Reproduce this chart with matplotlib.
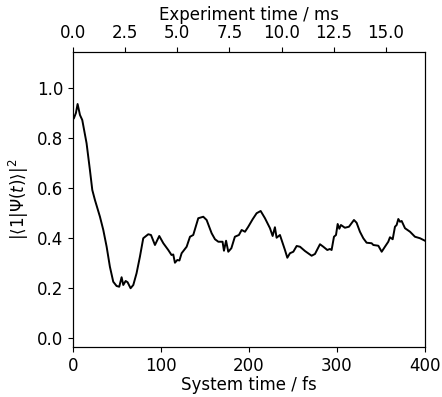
import numpy as np
import matplotlib
matplotlib.use("Agg")
import matplotlib.pyplot as plt

# system time (fs) and population
t_fs = [0, 1.1, 3.4, 5.3, 8, 10.6, 15.5, 19.3, 22, 25, 30.7, 34.5, 38.3, 42, 45.8,
        49.6, 52.6, 55.3, 57.2, 59.9, 62.1, 65.5, 68.6, 72.3, 76.1, 79.9, 85.6,
        88.7, 93.2, 98.1, 102.7, 108.3, 112, 114, 115.9, 118.6, 121, 123.5,
        129.2, 133, 136.7, 142.4, 148.1, 151.9, 157.6, 161.4, 165.2, 170, 171.6,
        174, 176.5, 180, 184, 188.6, 191.7, 195.5, 199.2, 204.2, 208.7, 213.3,
        218.2, 223.9, 226.9, 229.5, 231.4, 235.2, 239, 240.9, 243.6, 246.6,
        250.4, 254.2, 258, 263.6, 271.2, 275, 280.7, 284.5, 289, 292, 293.9,
        296.6, 298.9, 300.8, 302.7, 304.5, 309, 313.6, 319.3, 322.3, 326.1,
        329.9, 333.7, 339.4, 341.3, 347, 350.8, 354.5, 358.3, 360.2, 363.3,
        365.9, 367.8, 369.7, 371.6, 373.5, 377.3, 383, 388.6, 394.3, 400]
pop = [0.875, 0.879, 0.90, 0.936, 0.892, 0.872, 0.779, 0.672, 0.592, 0.552, 0.485,
       0.432, 0.365, 0.285, 0.225, 0.208, 0.205, 0.243, 0.212, 0.228, 0.223,
       0.199, 0.212, 0.259, 0.325, 0.399, 0.415, 0.412, 0.372, 0.408, 0.379,
       0.352, 0.332, 0.334, 0.301, 0.312, 0.31, 0.339, 0.365, 0.405, 0.412,
       0.479, 0.485, 0.472, 0.419, 0.395, 0.385, 0.385, 0.349, 0.389, 0.345,
       0.359, 0.405, 0.412, 0.432, 0.425, 0.445, 0.475, 0.499, 0.508, 0.479,
       0.439, 0.408, 0.443, 0.401, 0.412, 0.372, 0.352, 0.321, 0.339, 0.345,
       0.368, 0.365, 0.348, 0.329, 0.336, 0.375, 0.365, 0.352, 0.356, 0.352,
       0.405, 0.412, 0.456, 0.437, 0.452, 0.441, 0.445, 0.472, 0.461, 0.425,
       0.399, 0.381, 0.379, 0.372, 0.369, 0.345, 0.365, 0.385, 0.403, 0.395,
       0.445, 0.452, 0.476, 0.465, 0.468, 0.439, 0.425, 0.405, 0.399, 0.389]

t_max_fs = 400
t_max_ms = 16.87   # experiment time matching 400 fs

plt.rcParams["font.size"] = 12

fig = plt.figure(figsize=(4.42, 3.97), dpi=100)
ax = fig.add_axes([0.165, 0.126, 0.7965, 0.743])
ax.plot(t_fs, pop, color="black", lw=1.4)
ax.set_xlim(0, t_max_fs)
ax.set_xticks([0, 100, 200, 300, 400])
ax.set_ylim(-0.036, 1.144)
ax.set_xlabel("System time / fs", labelpad=1)
ax.set_ylabel(r"$|\langle 1|\Psi(t)\rangle|^2$")

ax2 = ax.twiny()
ax2.set_xlim(0, t_max_ms)
ax2.set_xlabel("Experiment time / ms", labelpad=3)

fig.savefig("out.png", dpi=100)
